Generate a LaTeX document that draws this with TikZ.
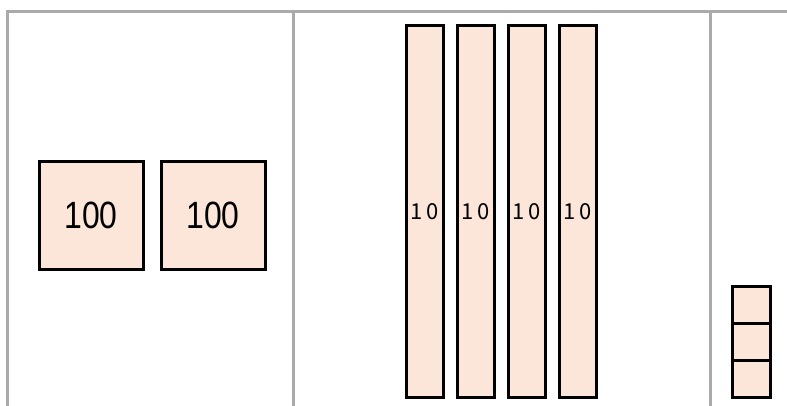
\documentclass[tikz,border=0pt]{standalone}
\usepackage{fontspec}
\setmainfont{Liberation Sans}
\newfontfamily\numfont[FakeStretch=0.84]{Liberation Sans}
\newfontfamily\jpfont{Noto Sans CJK JP}
\usetikzlibrary{positioning}
\definecolor{frame}{RGB}{170,170,170}
\definecolor{block}{RGB}{252,230,218}

\tikzset{
  hundred/.style={draw=black, line width=1.5pt, fill=block, minimum width=52pt, minimum height=54pt,
                  inner sep=0pt, font=\numfont\fontsize{19}{22}\selectfont},
  ten/.style={draw=black, line width=1.5pt, fill=block, minimum width=18.5pt, minimum height=186pt,
              inner sep=0pt, font=\jpfont\fontsize{11}{13}\selectfont},
  unit/.style={draw=black, line width=1.5pt, fill=block, minimum width=19pt, minimum height=18.5pt,
               inner sep=0pt}
}

\begin{document}
\begin{tikzpicture}[x=0.5pt, y=-0.5pt]
\useasboundingbox (0,0) rectangle (787,406);
% place-value table
\draw[frame, line width=1.5pt] (787,12) -- (7,12) -- (7,406);
\draw[frame, line width=1.5pt] (293,12) -- (293,406);
\draw[frame, line width=1.5pt] (710,12) -- (710,406);

% hundreds
\node[hundred] (h1) at (91,215.5) {100};
\node[hundred] (h2) at (213,215.5) {100};

% tens
\foreach \i/\x in {1/425, 2/476, 3/527, 4/578}
  \node[ten] (t\i) at (\x,211.5) {1\,0};

% ones
\foreach \i/\y in {1/305, 2/342, 3/379}
  \node[unit] (u\i) at (751.5,\y) {};
\end{tikzpicture}
\end{document}
